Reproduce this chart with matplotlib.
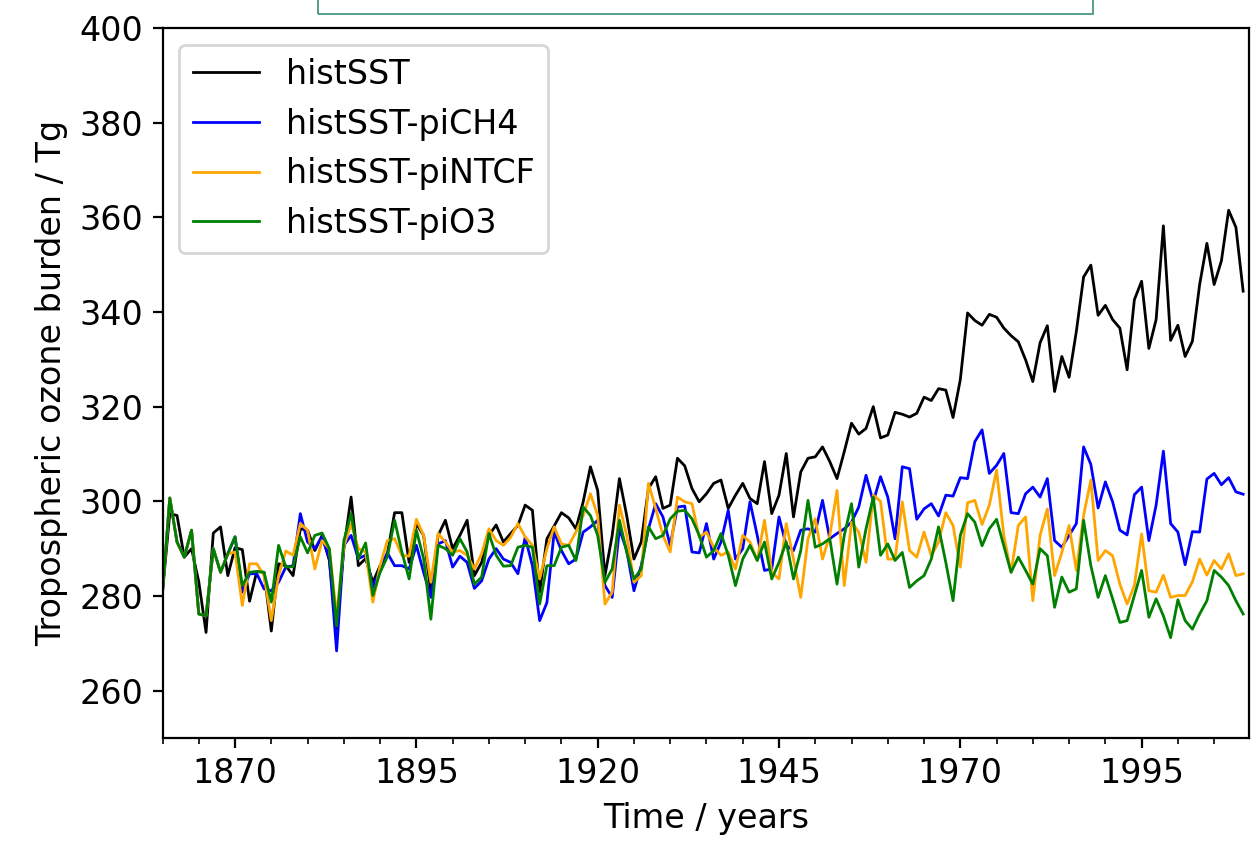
import numpy as np
import matplotlib.pyplot as plt
from matplotlib.patches import Rectangle

# annual means, 1860-2009
years = np.arange(1860, 2010)

hist_sst = [
    281.0, 297.4, 297.0, 288.2, 290.0, 283.0, 272.3, 293.3, 294.6, 284.3,
    290.2, 289.8, 278.9, 285.2, 285.0, 272.6, 286.8, 286.4, 284.3, 294.2,
    293.9, 289.6, 292.8, 287.5, 273.0, 290.0, 300.9, 286.4, 287.9, 282.9,
    286.4, 288.9, 297.6, 297.6, 287.1, 295.3, 292.8, 280.8, 292.8, 296.0,
    290.0, 292.8, 296.0, 284.3, 287.1, 292.8, 295.0, 291.4, 293.2, 294.9,
    299.2, 298.1, 280.8, 292.1, 294.8, 297.6, 296.5, 294.2, 299.9, 307.3,
    302.3, 284.3, 292.8, 304.8, 297.0, 287.8, 291.4, 302.7, 305.2, 298.5,
    299.2, 309.1, 307.5, 302.7, 299.9, 301.6, 303.8, 304.5, 298.5, 301.3,
    303.8, 300.6, 299.5, 308.4, 297.4, 301.3, 310.1, 296.7, 306.2, 309.1,
    309.4, 311.5, 308.4, 304.8, 310.5, 316.5, 314.2, 315.4, 320.0, 313.4,
    314.0, 318.8, 318.4, 317.8, 318.6, 322.0, 321.3, 323.8, 323.5, 317.7,
    325.7, 339.8, 338.2, 337.2, 339.5, 338.9, 336.6, 335.0, 333.7, 329.9,
    325.3, 333.5, 337.1, 323.2, 330.6, 326.2, 335.9, 347.4, 349.9, 339.3,
    341.4, 338.4, 336.6, 327.8, 342.6, 346.5, 332.3, 338.4, 358.2, 334.0,
    337.2, 330.6, 333.8, 345.8, 354.5, 345.8, 350.8, 361.5, 357.9, 344.4,
]

pi_ch4 = [
    281.0, 300.7, 291.4, 288.2, 293.9, 276.2, 275.8, 290.0, 285.0, 288.9,
    292.5, 280.8, 284.7, 284.7, 281.5, 281.1, 282.9, 286.1, 286.4, 297.4,
    291.4, 290.0, 292.5, 287.9, 268.4, 290.7, 292.8, 287.9, 288.6, 281.9,
    285.4, 289.1, 286.4, 286.4, 285.7, 290.7, 285.0, 279.7, 291.0, 291.7,
    286.1, 288.4, 287.1, 281.6, 283.2, 287.8, 290.0, 287.8, 287.1, 284.7,
    292.4, 286.4, 274.8, 278.6, 293.5, 289.6, 286.8, 287.8, 293.5, 294.6,
    296.0, 282.2, 279.7, 294.2, 289.6, 281.1, 286.4, 294.2, 299.5, 296.7,
    290.7, 298.8, 299.0, 289.3, 289.1, 295.3, 287.8, 291.4, 298.1, 287.8,
    290.0, 299.9, 292.8, 285.4, 285.7, 296.7, 290.7, 289.6, 293.9, 294.2,
    293.5, 300.2, 292.1, 293.2, 294.2, 295.6, 298.8, 305.5, 299.9, 305.2,
    300.9, 292.1, 307.3, 306.9, 296.2, 298.4, 299.5, 296.9, 301.3, 301.1,
    305.0, 304.8, 312.6, 315.1, 305.9, 307.6, 310.1, 297.6, 297.4, 301.6,
    303.0, 300.9, 304.8, 291.7, 290.3, 292.8, 295.3, 311.5, 307.8, 298.6,
    304.1, 299.9, 293.9, 292.9, 301.4, 303.0, 291.7, 299.2, 310.6, 295.3,
    293.5, 286.6, 293.6, 293.5, 304.7, 305.9, 303.5, 305.0, 302.0, 301.5,
]

pi_ntcf = [
    281.0, 300.7, 291.4, 288.2, 293.9, 276.2, 275.8, 290.0, 285.0, 288.9,
    289.3, 278.0, 286.8, 286.8, 284.3, 274.8, 284.3, 289.5, 288.6, 295.3,
    293.9, 285.7, 291.7, 290.0, 275.8, 290.5, 295.3, 290.0, 289.3, 278.7,
    286.4, 291.7, 292.1, 288.6, 288.4, 296.2, 292.8, 282.9, 293.2, 291.4,
    289.3, 289.6, 288.6, 285.7, 288.9, 294.2, 291.7, 290.7, 292.4, 295.3,
    292.5, 290.7, 283.6, 290.0, 294.6, 291.0, 290.7, 293.5, 297.0, 301.6,
    297.0, 278.3, 280.8, 299.2, 292.8, 282.9, 284.3, 303.8, 298.5, 292.8,
    289.3, 300.9, 299.9, 299.5, 292.4, 293.5, 290.3, 288.6, 289.3, 285.7,
    292.8, 291.4, 287.5, 296.0, 285.0, 283.6, 295.3, 287.8, 279.7, 292.1,
    296.3, 287.8, 292.8, 302.3, 282.2, 295.6, 293.5, 287.1, 301.3, 300.0,
    287.8, 287.8, 299.9, 289.6, 288.2, 293.5, 288.5, 291.4, 297.6, 294.9,
    286.1, 299.7, 300.2, 295.1, 299.2, 306.6, 292.8, 285.0, 294.9, 296.7,
    279.0, 292.8, 298.4, 284.3, 289.2, 294.9, 285.4, 297.0, 304.5, 287.5,
    289.6, 288.5, 282.5, 278.3, 282.2, 293.1, 281.1, 280.8, 284.4, 279.7,
    280.1, 280.1, 283.0, 287.8, 284.4, 287.5, 285.7, 288.9, 284.3, 284.7,
]

pi_o3 = [
    281.0, 300.7, 291.4, 288.2, 293.9, 276.2, 275.8, 290.0, 285.0, 288.9,
    292.5, 282.2, 285.0, 285.2, 285.0, 278.7, 290.7, 286.1, 286.2, 292.5,
    289.1, 292.8, 293.3, 290.0, 273.7, 291.7, 297.4, 287.9, 291.2, 280.1,
    285.0, 288.3, 296.0, 289.3, 283.6, 293.9, 287.9, 275.1, 290.7, 290.0,
    288.6, 292.1, 289.3, 282.5, 284.0, 293.2, 288.6, 286.3, 286.4, 290.3,
    290.7, 290.3, 278.3, 286.4, 286.4, 290.3, 290.7, 287.5, 298.8, 297.0,
    292.8, 282.9, 285.7, 296.0, 289.3, 283.6, 285.7, 294.6, 292.1, 292.8,
    296.3, 297.9, 298.1, 296.3, 292.8, 288.2, 289.6, 293.2, 288.6, 282.2,
    287.8, 290.7, 287.5, 291.4, 283.6, 287.1, 291.4, 283.6, 289.6, 300.2,
    290.3, 291.0, 292.1, 282.5, 292.8, 299.5, 286.1, 294.2, 300.9, 288.6,
    291.0, 287.5, 289.2, 281.8, 283.2, 284.3, 287.8, 294.6, 287.1, 279.0,
    292.8, 297.4, 295.6, 290.6, 294.2, 296.2, 290.6, 285.0, 288.2, 285.4,
    282.5, 290.0, 288.5, 277.6, 284.0, 280.8, 281.5, 296.0, 286.4, 279.7,
    284.3, 279.4, 274.4, 274.8, 280.1, 285.4, 275.5, 279.4, 275.8, 271.2,
    279.2, 274.8, 273.0, 276.2, 279.0, 285.4, 284.0, 282.2, 279.0, 276.2,
]

series = [
    ("histSST", hist_sst, "k"),
    ("histSST-piCH4", pi_ch4, "b"),
    ("histSST-piNTCF", pi_ntcf, "orange"),
    ("histSST-piO3", pi_o3, "g"),
]

fig = plt.figure(figsize=(6.285, 4.205), dpi=200)
ax = fig.add_axes([0.1293, 0.1225, 0.8643, 0.8442])

for name, vals, col in series:
    ax.plot(years, vals, color=col, lw=1.0, label=name)

ax.set_xlim(1860, 2009.8)
ax.set_ylim(250, 400)
ax.set_xticks(np.arange(1870, 2000, 25))
ax.set_xticks(np.arange(1860, 2010, 5), minor=True)
ax.set_yticks(np.arange(260, 401, 20))
ax.tick_params(labelsize=12)

ax.set_xlabel("Time / years", fontsize=12)
ax.set_ylabel("Tropospheric ozone burden / Tg", fontsize=12)
ax.legend(loc="upper left", fontsize=12)

# cut-off caption box from the page above the figure
fig.patches.append(Rectangle((0.253, 0.9834), 0.6165, 0.05,
                             transform=fig.transFigure, fill=False,
                             edgecolor="#3a8f7a", lw=0.6))

fig.savefig("out.png", dpi=200)
